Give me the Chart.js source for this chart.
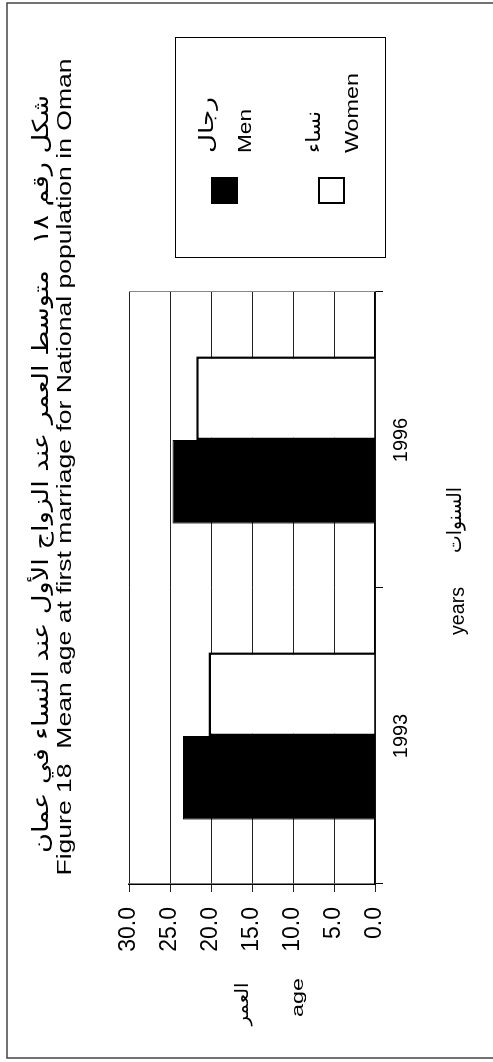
<!DOCTYPE html>
<html>
<head>
<meta charset="utf-8">
<script src="https://cdn.jsdelivr.net/npm/chart.js@4.4.0/dist/chart.umd.min.js"></script>
<style>
html,body{margin:0;padding:0;background:#fff;overflow:hidden;}
#wrap{position:absolute;left:0;top:0;width:1062px;height:493px;transform-origin:0 0;transform:translate(0,1062px) rotate(-90deg);}
</style>
</head>
<body>
<div id="wrap"><canvas id="chart" width="1062" height="493"></canvas></div>
<script>
const years = ["1993", "1996"];
const menAge = [23.4, 24.7];
const womenAge = [20.3, 21.8];
const yTicks = [0, 5, 10, 15, 20, 25, 30];
const seriesAr = ["رجال", "نساء"];
const seriesEn = ["Men", "Women"];
const titleAr = "شكل رقم ١٨   متوسط العمر عند الزواج الأول عند النساء في عمان";
const titleEn = "Figure 18  Mean age at first marriage for National population in Oman";
const xTitleEn = "years", xTitleAr = "السنوات";
const yTitleEn = "age", yTitleAr = "العمر";

const LAT = "'Liberation Sans', Arial, sans-serif";
const ARB = "'DejaVu Sans', sans-serif";

// draw text squeezed/stretched to a given width (scan is not evenly scaled)
function fitText(ctx, txt, x, y, font, w, align, base){
    ctx.font = font;
    const m = ctx.measureText(txt).width;
    ctx.save();
    ctx.translate(x, y);
    ctx.scale(w / m, 1);
    ctx.textAlign = align;
    ctx.textBaseline = base || "alphabetic";
    ctx.fillStyle = "#000";
    ctx.fillText(txt, 0, 0);
    ctx.restore();
}

const decor = {
    id: "decor",
    afterDraw(chart){
        const ctx = chart.ctx, a = chart.chartArea;
        ctx.save();
        // page frame
        ctx.strokeStyle = "#444"; ctx.lineWidth = 1.5;
        ctx.beginPath();
        ctx.moveTo(4, 493); ctx.lineTo(4, 7); ctx.lineTo(1059, 7); ctx.lineTo(1059, 493);
        ctx.stroke();
        // plot right border
        ctx.strokeStyle = "#888"; ctx.lineWidth = 1;
        ctx.beginPath(); ctx.moveTo(a.right + 0.5, a.top); ctx.lineTo(a.right + 0.5, a.bottom); ctx.stroke();

        // titles
        fitText(ctx, titleAr, 588, 42, "22px " + ARB, 758, "center", "middle");
        fitText(ctx, titleEn, 595, 71, "21px " + LAT, 817, "center");

        // axis titles
        fitText(ctx, yTitleAr, 58, 243, "18px " + ARB, 43, "center", "middle");
        fitText(ctx, yTitleEn, 45, 303, "17px " + LAT, 39, "left");
        fitText(ctx, xTitleEn, 427, 464, "20px " + LAT, 48, "left");
        fitText(ctx, xTitleAr, 542, 456, "20px " + ARB, 66, "center", "middle");

        // legend
        ctx.strokeStyle = "#000"; ctx.lineWidth = 1;
        ctx.strokeRect(804.5, 175.5, 220, 210);
        const rowY = [211, 318];
        chart.data.datasets.forEach((ds, i) => {
            const y = rowY[i];
            ctx.fillStyle = ds.backgroundColor;
            ctx.fillRect(859, y + 1, 25, 25);
            ctx.strokeStyle = "#000"; ctx.lineWidth = 2;
            ctx.strokeRect(859, y + 1, 25, 25);
            fitText(ctx, seriesAr[i], 909, y - 3, "20px " + ARB, i ? 42 : 56, "left", "middle");
            fitText(ctx, seriesEn[i], 909, y + 40, "19px " + LAT, i ? 80 : 44, "left");
        });
        ctx.restore();
    }
};

new Chart(document.getElementById("chart"), {
    type: "bar",
    data: {
        labels: years,
        datasets: [
            {label: seriesEn[0], data: menAge, backgroundColor: "#000", borderColor: "#000", borderWidth: 1,
             barPercentage: 1, categoryPercentage: 0.565},
            {label: seriesEn[1], data: womenAge, backgroundColor: "#fff", borderColor: "#000", borderWidth: 2.5,
             barPercentage: 1, categoryPercentage: 0.565}
        ]
    },
    options: {
        responsive: false, animation: false, devicePixelRatio: 1,
        layout: {padding: {left: 0, right: 292, top: 129, bottom: 0}},
        plugins: {legend: {display: false}, title: {display: false}, tooltip: {enabled: false}},
        scales: {
            x: {
                grid: {drawOnChartArea: false, tickLength: 8, color: "#000", offset: true},
                border: {color: "#000", width: 1.5},
                ticks: {color: "#000", padding: 6, font: {family: LAT, size: 20}},
                afterFit(s){ s.height = 118; }
            },
            y: {
                min: 0, max: 30,
                afterBuildTicks(s){ s.ticks = yTicks.map(v => ({value: v})); },
                grid: {color: "#222", lineWidth: 1, tickLength: 8},
                border: {color: "#000", width: 1.5},
                ticks: {color: "#000", padding: 15, font: {family: LAT, size: 23},
                        callback: v => v.toFixed(1)},
                afterFit(s){ s.width = 178; }
            }
        }
    },
    plugins: [decor]
});
</script>
</body>
</html>
